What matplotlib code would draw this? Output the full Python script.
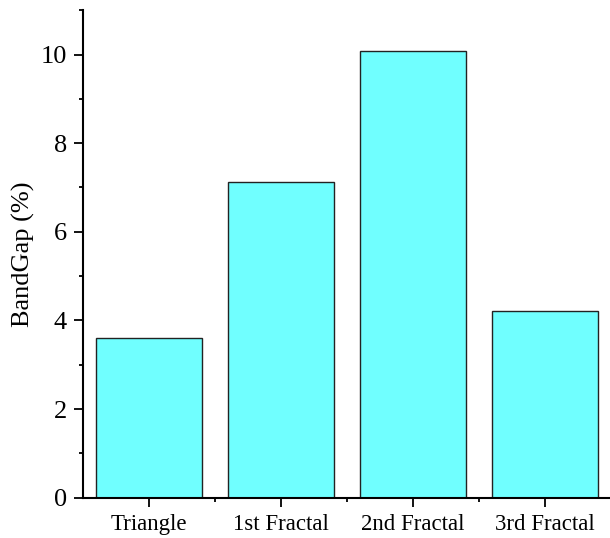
import matplotlib
matplotlib.use("Agg")
import matplotlib.pyplot as plt
from matplotlib.ticker import MultipleLocator, FixedLocator

categories = ["Triangle", "1st Fractal", "2nd Fractal", "3rd Fractal"]
bandgap = [3.61, 7.13, 10.08, 4.21]

plt.rcParams['font.family'] = ['Liberation Serif', 'DejaVu Serif']

fig = plt.figure(figsize=(6.1, 5.38), dpi=100)
ax = fig.add_axes([0.136, 0.075, 0.866, 0.906])
x = range(len(categories))
ax.bar(x, bandgap, width=0.8, color="#70FFFF", edgecolor="#222222", linewidth=1.0)

ax.set_xlim(-0.5, 3.5); ax.set_ylim(0, 11)
ax.set_xticks(list(x)); ax.set_xticklabels(categories, fontsize=16.5)
ax.xaxis.set_minor_locator(FixedLocator([0.5, 1.5, 2.5]))
ax.yaxis.set_major_locator(MultipleLocator(2)); ax.yaxis.set_minor_locator(MultipleLocator(1))
ax.tick_params(axis="y", which="major", labelsize=19, length=6.5, width=1.3, direction="out", pad=5)
ax.tick_params(axis="both", which="minor", length=3, width=1.3, direction="out")
ax.tick_params(axis="x", which="major", length=6.5, width=1.3, direction="out", pad=5)
for s in ("top", "right"): ax.spines[s].set_visible(False)
for s in ("left", "bottom"): ax.spines[s].set_linewidth(1.5)
ax.set_ylabel("BandGap (%)", fontsize=19, labelpad=4)

fig.savefig("out.png", dpi=100)
